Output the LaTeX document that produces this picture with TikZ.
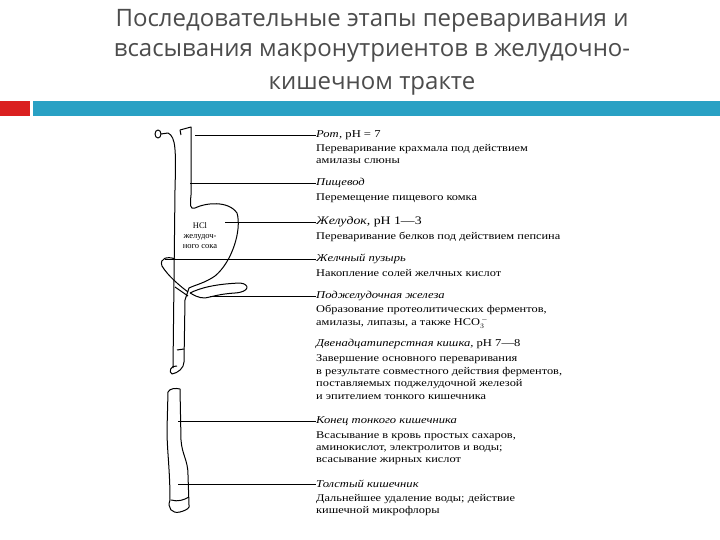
\documentclass[tikz,border=0pt]{standalone}
\usepackage{fontspec}
\setmainfont{Liberation Serif}
\newfontfamily\descfont[FakeStretch=1.2]{Liberation Serif}
\newfontfamily\titlefont{Open Sans}
\definecolor{teal1}{RGB}{41,161,196}
\definecolor{red1}{RGB}{218,32,32}
\begin{document}
\begin{tikzpicture}[x=1pt,y=-1pt,
  lbl/.style={anchor=west,inner sep=0pt,font=\descfont\fontsize{10.5}{11}\selectfont\itshape},
  dsc/.style={anchor=west,inner sep=0pt,font=\descfont\fontsize{10.3}{11}\selectfont},
  ttl/.style={inner sep=0pt,font=\titlefont\fontsize{24}{28}\selectfont,text=black!70},
  organ/.style={draw,line width=1pt,line join=round},
  lead/.style={draw,line width=0.7pt}]
\useasboundingbox (0,0) rectangle (720,540);
\fill[white] (0,0) rectangle (720,540);
\node[ttl] (t1) at (372,21) {Последовательные этапы переваривания и};
\node[ttl] (t2) at (372,53) {всасывания макронутриентов в желудочно-};
\node[ttl] (t3) at (372,86) {кишечном тракте};
\fill[red1] (0,101) rectangle (30,116);
\fill[teal1] (33,101) rectangle (720,116);
% organs
\draw[organ] (158,134) ellipse (3 and 4);
\draw[organ] (161,134) -- (168,133) .. controls (176,137) and (176,150) .. (175,190) -- (174,280) -- (173,368);
\draw[organ] (180,130) -- (191,127) -- (191,195) .. controls (190,205) and (190,210) .. (195,208)
  .. controls (205,203) and (228,200) .. (237,213) .. controls (242,230) and (232,262) .. (215,276)
  .. controls (205,283) and (195,285) .. (189,288) -- (185,300) -- (184,362);
\draw[organ] (180,130) -- (181,135);
\draw[organ] (177,366) .. controls (171,365) and (168,372) .. (172,374) .. controls (178,373) and (184,368) .. (184,362);
\draw[organ] (175,259) .. controls (168,256) and (159,258) .. (162,266) .. controls (168,276) and (180,286) .. (188,292);
\draw[organ] (190,293) .. controls (200,288) and (215,284) .. (240,283) .. controls (250,284) and (250,292) .. (235,293)
  .. controls (220,294) and (215,296) .. (205,298) .. controls (198,298) and (194,295) .. (190,293);
\draw[organ] (175,287) -- (188,296);
\draw[organ] (177,350) -- (184,349);
% lower intestine
\draw[organ] (168,392) .. controls (170,388) and (176,388) .. (180,389);
\draw[organ] (168,392) -- (167,430) .. controls (167,450) and (170,470) .. (170,500);
\draw[organ] (180,389) -- (181,440) .. controls (182,455) and (188,460) .. (188,475) -- (189,505);
\draw[organ] (170,500) .. controls (167,508) and (172,514) .. (180,512) .. controls (187,510) and (190,508) .. (189,505);
\draw[organ] (171,500) .. controls (178,502) and (184,500) .. (189,497);
% labels
\node[lbl] (l1) at (316,135) {Рот, \upshape pH = 7};
\node[dsc] (d1a) at (316,149) {Переваривание крахмала под действием};
\node[dsc] (d1b) at (316,161) {амилазы слюны};
\node[lbl] (l2) at (316,183) {Пищевод};
\node[dsc] (d2) at (316,198) {Перемещение пищевого комка};
\node[lbl,font=\descfont\fontsize{11.5}{12}\selectfont\itshape] (l3) at (316,222) {Желудок, \upshape pH 1—3};
\node[dsc] (d3) at (316,237) {Переваривание белков под действием пепсина};
\node[lbl] (l4) at (316,259) {Желчный пузырь};
\node[dsc] (d4) at (316,273) {Накопление солей желчных кислот};
\node[lbl] (l5) at (316,296) {Поджелудочная железа};
\node[dsc] (d5a) at (316,310) {Образование протеолитических ферментов,};
\node[dsc] (d5b) at (316,323) {амилазы, липазы, а также HCO$_3^{\,-}$};
\node[lbl] (l6) at (316,344) {Двенадцатиперстная кишка, \upshape pH 7—8};
\node[dsc] (d6a) at (316,359) {Завершение основного переваривания};
\node[dsc] (d6b) at (316,372) {в результате совместного действия ферментов,};
\node[dsc] (d6c) at (316,384) {поставляемых поджелудочной железой};
\node[dsc] (d6d) at (316,397) {и эпителием тонкого кишечника};
\node[lbl] (l7) at (316,421) {Конец тонкого кишечника};
\node[dsc] (d7a) at (316,436) {Всасывание в кровь простых сахаров,};
\node[dsc] (d7b) at (316,449) {аминокислот, электролитов и воды;};
\node[dsc] (d7c) at (316,461) {всасывание жирных кислот};
\node[lbl] (l8) at (316,484) {Толстый кишечник};
\node[dsc] (d8a) at (316,499) {Дальнейшее удаление воды; действие};
\node[dsc] (d8b) at (316,511) {кишечной микрофлоры};
\node[inner sep=0pt,align=center,font=\fontsize{8.5}{10}\selectfont] (hcl) at (200,236) {HCl\\желудоч-\\ного сока};
% leaders
\coordinate (p1) at (195,135); \coordinate (p2) at (190,183); \coordinate (p3) at (225,222);
\coordinate (p4) at (165,259); \coordinate (p5) at (210,296); \coordinate (p7) at (178,421); \coordinate (p8) at (178,484);
\draw[lead] (p1) -- (l1.west); \draw[lead] (p2) -- (l2.west); \draw[lead] (p3) -- (l3.west);
\draw[lead] (p4) -- (l4.west); \draw[lead] (p5) -- (l5.west); \draw[lead] (p7) -- (l7.west); \draw[lead] (p8) -- (l8.west);
\end{tikzpicture}
\end{document}
